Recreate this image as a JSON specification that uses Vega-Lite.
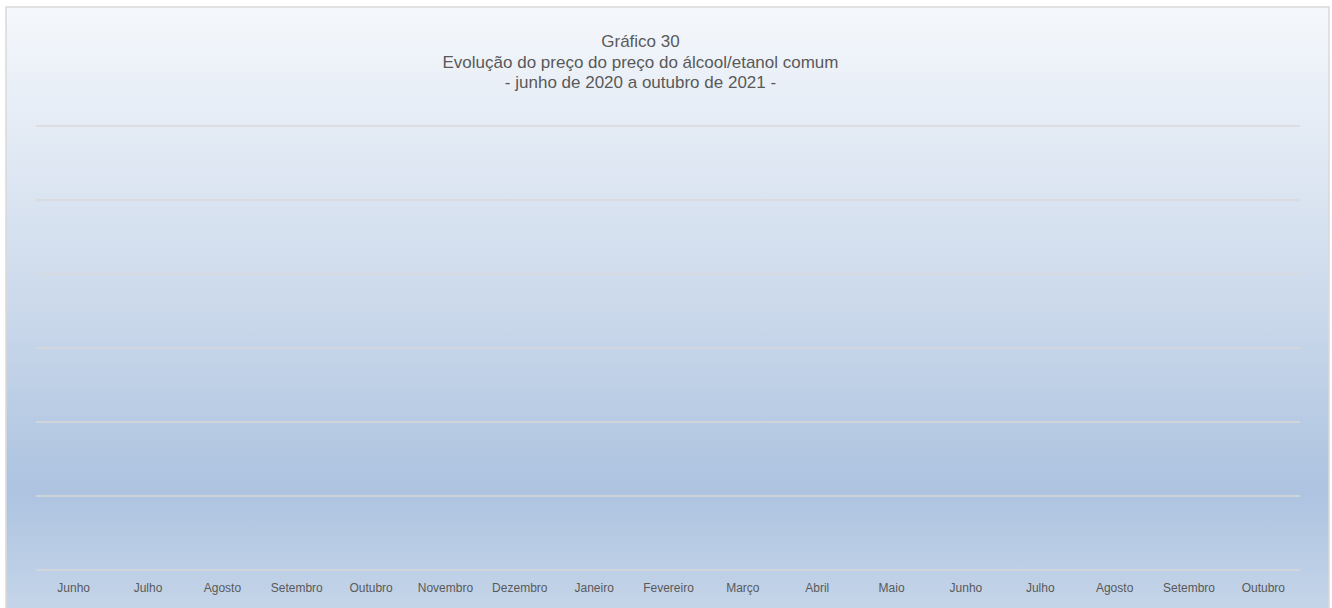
{
  "$schema": "https://vega.github.io/schema/vega-lite/v6.json",
  "width": 1323,
  "height": 603,
  "autosize": {"type": "none"},
  "padding": {"left": 6, "top": 7, "right": 3, "bottom": 0},
  "background": "#ffffff",
  "title": {
    "text": ["Gráfico 30", "Evolução do preço do preço do álcool/etanol comum", "- junho de 2020 a outubro de 2021 -"],
    "font": "Liberation Sans",
    "fontSize": 17,
    "fontWeight": "normal",
    "color": "#595959",
    "lineHeight": 20.5,
    "anchor": "middle",
    "frame": "group",
    "baseline": "bottom",
    "offset": -102,
    "dx": -27
  },
  "config": {
    "view": {
      "fill": {
        "gradient": "linear",
        "x1": 0, "y1": 0, "x2": 0, "y2": 1,
        "stops": [
          {"offset": 0, "color": "#f5f8fc"},
          {"offset": 0.2, "color": "#e4ebf5"},
          {"offset": 0.5, "color": "#cbd9eb"},
          {"offset": 0.8, "color": "#adc3e0"},
          {"offset": 1, "color": "#c5d5e9"}
        ]
      },
      "stroke": "#d9d9d9",
      "strokeWidth": 1.5
    }
  },
  "data": {"values": [
    {"grade": 0}, {"grade": 1}, {"grade": 2}, {"grade": 3}, {"grade": 4}, {"grade": 5}, {"grade": 6}
  ]},
  "mark": {"type": "rule", "color": "#d9d9d9", "strokeWidth": 1.5},
  "encoding": {
    "y": {
      "field": "grade",
      "type": "quantitative",
      "scale": {"domain": [0, 6], "range": [563, 119], "nice": false, "zero": false},
      "axis": null
    },
    "x": {
      "datum": 0,
      "type": "quantitative",
      "scale": {"domain": [0, 17], "range": [30, 1294], "nice": false, "zero": false},
      "axis": {
        "values": [0.5, 1.5, 2.5, 3.5, 4.5, 5.5, 6.5, 7.5, 8.5, 9.5, 10.5, 11.5, 12.5, 13.5, 14.5, 15.5, 16.5],
        "labelExpr": "['Junho','Julho','Agosto','Setembro','Outubro','Novembro','Dezembro','Janeiro','Fevereiro','Março','Abril','Maio','Junho','Julho','Agosto','Setembro','Outubro'][floor(datum.value)]",
        "title": null,
        "grid": false,
        "domain": false,
        "ticks": false,
        "offset": -23,
        "labelPadding": 0,
        "labelBaseline": "middle",
        "labelFont": "Liberation Sans",
        "labelFontSize": 12,
        "labelColor": "#595959",
        "labelOverlap": false,
        "labelFlush": false,
        "labelBound": false
      }
    },
    "x2": {"datum": 17}
  }
}
